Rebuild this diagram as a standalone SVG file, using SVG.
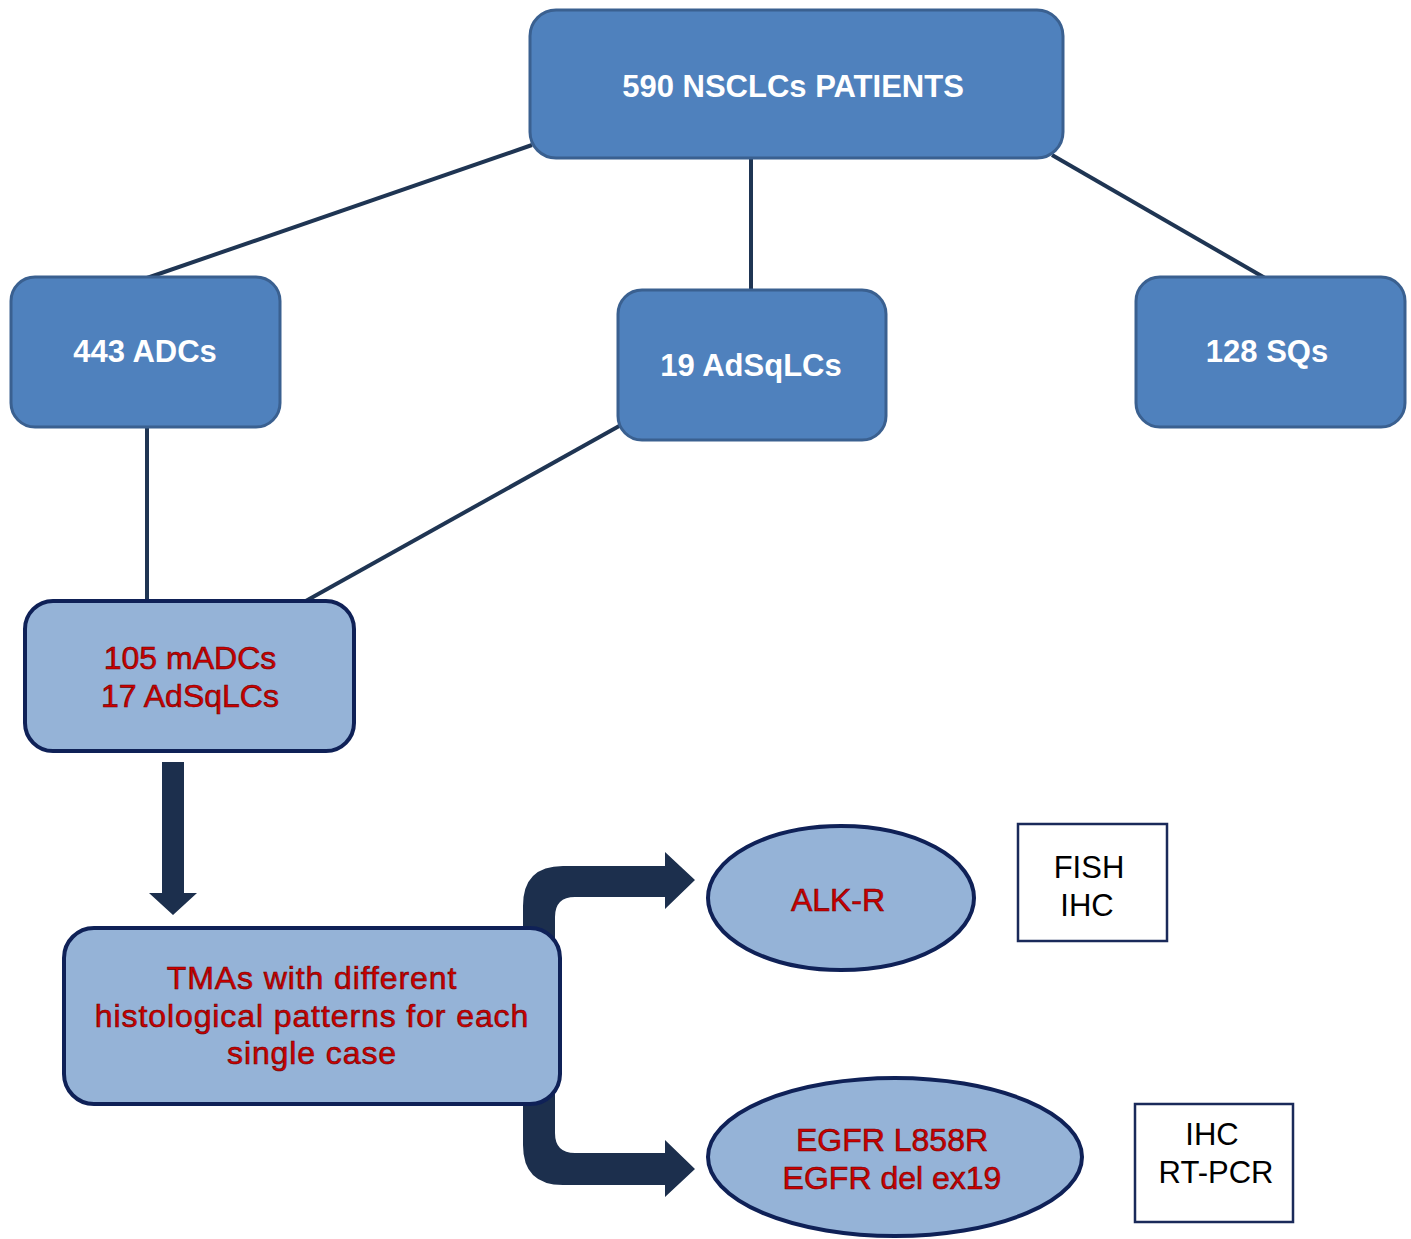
<svg xmlns="http://www.w3.org/2000/svg" width="1411" height="1239" viewBox="0 0 1411 1239">
<style>
.dark{fill:#4f81bd;stroke:#3a6090;stroke-width:3}
.light{fill:#95b3d7;stroke:#0f2157;stroke-width:4}
.plain{fill:#ffffff;stroke:#1a2a5a;stroke-width:2.5}
.conn{stroke:#1f3553;stroke-width:4;fill:none}
.big{fill:#1c2f4d}
.tw{font-family:"Liberation Sans",Arial,sans-serif;font-size:31px;font-weight:bold;fill:#ffffff;text-anchor:middle}
.tr{font-family:"Liberation Sans",Arial,sans-serif;font-size:32px;fill:#cc0000;text-anchor:middle;stroke:#6a0000;stroke-width:0.6}
.sp{letter-spacing:0.9px}
.tb{font-family:"Liberation Sans",Arial,sans-serif;font-size:31px;fill:#000000;text-anchor:middle}
</style>
<rect width="1411" height="1239" fill="#ffffff"/>
<g id="connectors">
<line class="conn" x1="532" y1="145" x2="147" y2="278"/>
<line class="conn" x1="751" y1="158" x2="751" y2="291"/>
<line class="conn" x1="1052" y1="155" x2="1265" y2="278"/>
<line class="conn" x1="147" y1="426" x2="147" y2="602"/>
<line class="conn" x1="621" y1="425" x2="304" y2="602"/>
<path class="big" d="M162 762 L184 762 L184 893 L197 893 L173 915 L149 893 L162 893 Z"/>
<path class="big" d="M523 945 L523 906 Q523 866 563 866 L665 866 L665 852 L695 880 L665 909 L665 897 L575 897 Q555 897 555 917 L555 945 Z"/>
<path class="big" d="M523 1090 L523 1145 Q523 1185 563 1185 L665 1185 L665 1197 L695 1169 L665 1140 L665 1153 L575 1153 Q555 1153 555 1133 L555 1090 Z"/>
</g>
<g id="n590">
<rect class="dark" x="530" y="10" width="533" height="148" rx="26"/>
<text class="tw" x="793" y="97">590 NSCLCs PATIENTS</text>
</g>
<g id="n443">
<rect class="dark" x="11" y="277" width="269" height="150" rx="24"/>
<text class="tw" x="145" y="362">443 ADCs</text>
</g>
<g id="n19">
<rect class="dark" x="618" y="290" width="268" height="150" rx="24"/>
<text class="tw" x="751" y="376">19 AdSqLCs</text>
</g>
<g id="n128">
<rect class="dark" x="1136" y="277" width="269" height="150" rx="24"/>
<text class="tw" x="1267" y="362">128 SQs</text>
</g>
<g id="n105">
<rect class="light" x="25" y="601" width="329" height="150" rx="28"/>
<text class="tr" x="190" y="669">105 mADCs</text>
<text class="tr" x="190" y="707">17 AdSqLCs</text>
</g>
<g id="ntma">
<rect class="light" x="64" y="928" width="496" height="176" rx="30"/>
<text class="tr sp" x="312" y="989">TMAs with different</text>
<text class="tr sp" x="312" y="1027">histological patterns for each</text>
<text class="tr sp" x="312" y="1064">single case</text>
</g>
<g id="nalk">
<ellipse class="light" cx="841" cy="898" rx="133" ry="72"/>
<text class="tr" x="838" y="911">ALK-R</text>
</g>
<g id="negfr">
<ellipse class="light" cx="895" cy="1157" rx="187" ry="79"/>
<text class="tr" x="892" y="1151">EGFR L858R</text>
<text class="tr" x="892" y="1189">EGFR del ex19</text>
</g>
<g id="nfish">
<rect class="plain" x="1018" y="824" width="149" height="117"/>
<text class="tb" x="1089" y="878">FISH</text>
<text class="tb" x="1087" y="916">IHC</text>
</g>
<g id="nihc">
<rect class="plain" x="1135" y="1104" width="158" height="118"/>
<text class="tb" x="1212" y="1145">IHC</text>
<text class="tb" x="1216" y="1183">RT-PCR</text>
</g>
</svg>
